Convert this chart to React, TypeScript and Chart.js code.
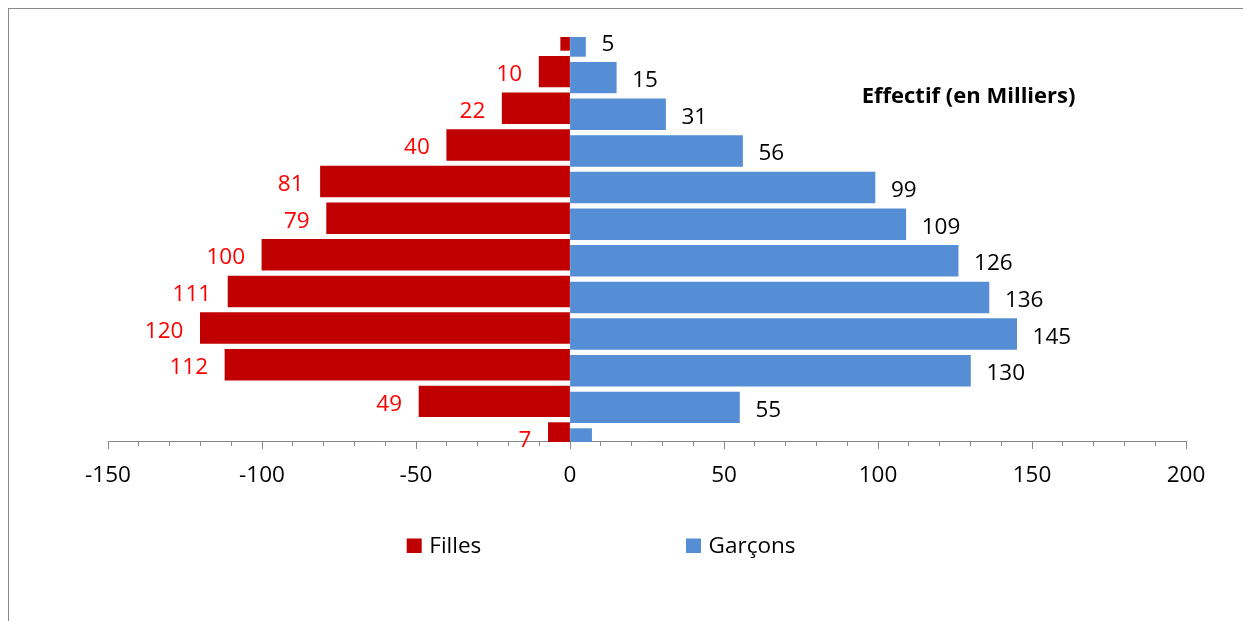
import React, { useEffect, useRef } from 'react';
import { Chart, registerables } from 'chart.js';

Chart.register(...registerables);

// ---- Data (top row first) ----
const tranches = ['T12', 'T11', 'T10', 'T9', 'T8', 'T7', 'T6', 'T5', 'T4', 'T3', 'T2', 'T1'];
const filles = [3, 10, 22, 40, 81, 79, 100, 111, 120, 112, 49, 7];
const garcons = [5, 15, 31, 56, 99, 109, 126, 136, 145, 130, 55, 7];
const xTickLabels = [-150, -100, -50, 0, 50, 100, 150, 200];
const hiddenFillesLabels = [0];
const hiddenGarconsLabels = [11];
const seriesNames = ['Filles', 'Garçons'];
const chartTitle = 'Effectif (en Milliers)';

const FONT = "'Open Sans', sans-serif";
const RED = '#C00000';
const BLUE = '#558ED5';
const GRAY = '#898989';

const decorPlugin = {
  id: 'decor',
  afterDatasetsDraw(chart: any) {
    const ctx = chart.ctx;
    ctx.save();
    ctx.font = `22.5px ${FONT}`;
    ctx.textBaseline = 'alphabetic';
    chart.data.datasets.forEach((ds: any, di: number) => {
      const meta = chart.getDatasetMeta(di);
      meta.data.forEach((el: any, i: number) => {
        const raw = ds.data[i];
        if (di === 0) {
          if (hiddenFillesLabels.includes(i)) return;
          ctx.fillStyle = '#FF0000';
          ctx.textAlign = 'right';
          ctx.fillText(String(Math.abs(raw)), el.x - 17, el.y + 9.5);
        } else {
          if (hiddenGarconsLabels.includes(i)) return;
          ctx.fillStyle = '#000000';
          ctx.textAlign = 'left';
          ctx.fillText(String(Math.abs(raw)), el.x + 16, el.y + 9.5);
        }
      });
    });
    ctx.restore();
  },
  afterDraw(chart: any) {
    const ctx = chart.ctx;
    const xs = chart.scales.x;
    const area = chart.chartArea;
    ctx.save();
    // major ticks
    ctx.strokeStyle = GRAY;
    ctx.lineWidth = 1;
    xTickLabels.forEach((v) => {
      const px = Math.round(xs.getPixelForValue(v)) + 0.5;
      ctx.beginPath();
      ctx.moveTo(px, area.bottom);
      ctx.lineTo(px, area.bottom + 8);
      ctx.stroke();
    });
    // title
    ctx.fillStyle = '#000';
    ctx.font = `bold 22px ${FONT}`;
    ctx.textAlign = 'left';
    ctx.textBaseline = 'alphabetic';
    ctx.fillText(chartTitle, 852.7, 94.3);
    // legend
    ctx.font = `22.5px ${FONT}`;
    const items = [
      { label: seriesNames[0], color: RED, x: 397.7 },
      { label: seriesNames[1], color: BLUE, x: 677 },
    ];
    items.forEach((it) => {
      ctx.fillStyle = it.color;
      ctx.fillRect(it.x, 529.5, 15, 14.5);
      ctx.fillStyle = '#000';
      ctx.fillText(it.label, it.x + 22.6, 544.3);
    });
    ctx.restore();
  },
};

export default function App() {
  const ref = useRef<HTMLCanvasElement>(null);
  useEffect(() => {
    document.documentElement.style.overflow = 'hidden';
    document.body.style.overflow = 'hidden';
    if (!ref.current) return;
    const chart = new Chart(ref.current, {
      type: 'bar',
      data: {
        labels: tranches,
        datasets: [
          {
            label: seriesNames[0],
            data: filles.map((v) => -v),
            backgroundColor: RED,
            borderWidth: 0,
            inflateAmount: 0.4,
            categoryPercentage: 0.328,
            barPercentage: 5.1,
            clip: { left: false, right: false, top: 1, bottom: 1 } as any,
          },
          {
            label: seriesNames[1],
            data: garcons,
            backgroundColor: BLUE,
            borderWidth: 0,
            inflateAmount: 0.4,
            categoryPercentage: 0.328,
            barPercentage: 5.1,
            clip: { left: false, right: false, top: 1, bottom: 1 } as any,
          },
        ],
      },
      options: {
        indexAxis: 'y',
        responsive: false,
        animation: false,
        layout: { padding: { left: 99, right: 65, top: 29, bottom: 120 } },
        scales: {
          x: {
            type: 'linear',
            min: -150,
            max: 200,
            ticks: {
              stepSize: 10,
              autoSkip: false,
              maxRotation: 0,
              minRotation: 0,
              color: '#000',
              padding: 16,
              font: { family: FONT, size: 22.5 },
              callback: (v: any) => (xTickLabels.includes(Number(v)) ? String(v) : ''),
            },
            grid: { drawOnChartArea: false, tickLength: 5, color: GRAY, lineWidth: 1 },
            border: { color: GRAY, width: 1 },
            afterFit: (s: any) => {
              s.height = 60;
            },
          },
          y: {
            type: 'category',
            display: false,
            offset: false,
            grid: { display: false },
          },
        },
        plugins: {
          legend: { display: false },
          tooltip: { enabled: false },
          title: { display: false },
        },
      } as any,
      plugins: [decorPlugin],
    });
    return () => chart.destroy();
  }, []);

  return (
    <div
      style={{
        width: 1243,
        height: 613,
        borderLeft: `1px solid ${GRAY}`,
        borderTop: `1px solid ${GRAY}`,
        boxSizing: 'border-box',
        overflow: 'hidden',
        background: '#fff',
      }}
    >
      <canvas ref={ref} width={1242} height={612} style={{ display: 'block', width: 1242, height: 612 }} />
    </div>
  );
}
